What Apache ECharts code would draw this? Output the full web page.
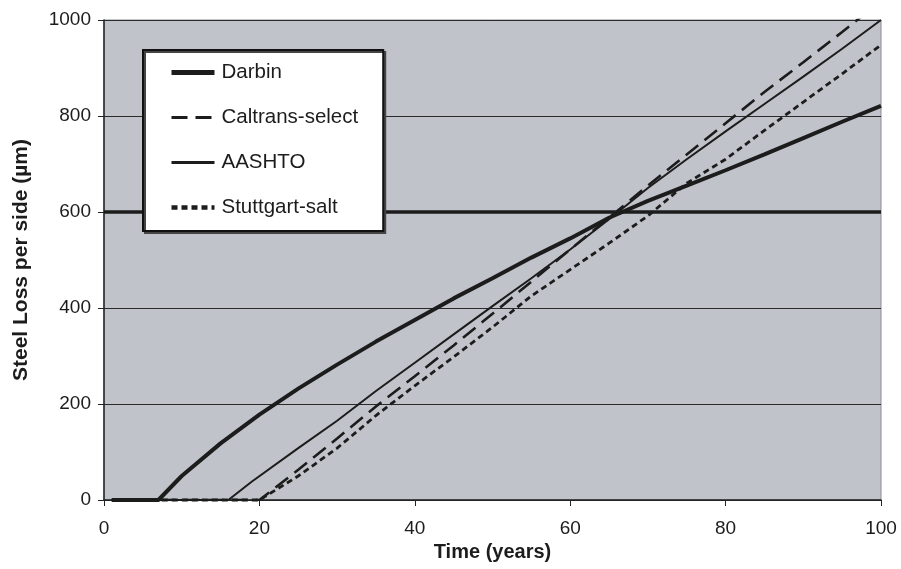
<!DOCTYPE html>
<html>
<head>
<meta charset="utf-8">
<script src="https://cdn.jsdelivr.net/npm/echarts@6/dist/echarts.min.js"></script>
<style>
  html, body { margin: 0; padding: 0; background: #fff; }
  #chart { width: 901px; height: 569px; }
</style>
</head>
<body>
<div id="chart"></div>
<script>
// Steel loss per side over time for four corrosion models
const darbinYears = [1, 7, 10, 15, 20, 25, 30, 35, 40, 45, 50, 55, 60, 65, 70, 75, 80, 85, 90, 95, 100];
const darbinLoss  = [0, 0, 50, 118, 178, 232, 282, 330, 375, 420, 462, 505, 545, 588, 623, 655, 687, 720, 754, 788, 821];

const caltransYears = [1, 20, 25, 30, 35, 40, 45, 50, 55, 60, 65, 70, 75, 80, 85, 90, 95, 100];
const caltransLoss  = [0, 0, 63, 128, 195, 258, 322, 388, 455, 522, 588, 655, 720, 785, 850, 912, 975, 1040];

const aashtoYears = [1, 16, 19, 25, 30, 35, 40, 45, 50, 55, 60, 65, 70, 75, 80, 85, 90, 95, 100];
const aashtoLoss  = [0, 0, 38, 108, 165, 227, 286, 345, 404, 462, 522, 585, 650, 710, 768, 825, 882, 940, 1000];

const stuttgartYears = [1, 20, 25, 30, 35, 40, 45, 50, 55, 60, 65, 70, 75, 80, 85, 90, 95, 100];
const stuttgartLoss  = [0, 0, 50, 108, 176, 238, 298, 360, 425, 480, 535, 592, 660, 710, 770, 829, 888, 948];

const thresholdLoss = 600;

const xTicks = { min: 0, max: 100, step: 20 };
const yTicks = { min: 0, max: 1000, step: 200 };

const pairs = (xs, ys) => xs.map((x, i) => [x, ys[i]]);

const ink = '#1c1c1c';
const font = '"Liberation Sans", Arial, sans-serif';

const chart = echarts.init(document.getElementById('chart'), null, { renderer: 'canvas' });

chart.setOption({
  animation: false,
  backgroundColor: '#ffffff',
  grid: {
    left: 104, top: 20, right: 20, bottom: 69,
    outerBoundsMode: 'none',
    containLabel: false,
    show: true,
    backgroundColor: '#c0c3ca',
    borderColor: '#8a8d92',
    borderWidth: 1
  },
  legend: {
    orient: 'vertical',
    left: 143, top: 50,
    z: 20,
    padding: [12, 25, 13, 26],
    itemWidth: 43,
    itemHeight: 14,
    itemGap: 24,
    backgroundColor: '#ffffff',
    borderColor: '#111',
    borderWidth: 2,
    shadowColor: '#444',
    shadowBlur: 0,
    shadowOffsetX: 2,
    shadowOffsetY: 2,
    itemStyle: { color: 'transparent', borderColor: 'transparent', borderWidth: 0 },
    textStyle: { fontFamily: font, fontSize: 20.5, color: ink, lineHeight: 20, padding: [0, 0, 0, 2] },
    data: [
      { name: 'Darbin', lineStyle: { width: 5 } },
      { name: 'Caltrans-select', lineStyle: { width: 3 } },
      { name: 'AASHTO', lineStyle: { width: 3 } },
      { name: 'Stuttgart-salt', lineStyle: { width: 4.5 } }
    ]
  },
  xAxis: {
    type: 'value',
    min: xTicks.min, max: xTicks.max, interval: xTicks.step,
    name: 'Time (years)',
    nameLocation: 'middle',
    nameGap: 42,
    nameTextStyle: { fontFamily: font, fontSize: 20, fontWeight: 'bold', color: ink },
    axisLine: { show: true, onZero: false, lineStyle: { color: '#222', width: 1.5 } },
    axisTick: { show: true, inside: false, length: 6, lineStyle: { color: '#222' } },
    axisLabel: { fontFamily: font, fontSize: 19, color: ink, margin: 19 },
    splitLine: { show: false }
  },
  yAxis: {
    type: 'value',
    min: yTicks.min, max: yTicks.max, interval: yTicks.step,
    name: 'Steel Loss per side (\u00b5m)',
    nameLocation: 'middle',
    nameGap: 72,
    nameTextStyle: { fontFamily: font, fontSize: 21, fontWeight: 'bold', color: ink },
    axisLine: { show: true, lineStyle: { color: '#222', width: 1.5 } },
    axisTick: { show: true, inside: false, length: 6, lineStyle: { color: '#222' } },
    axisLabel: { fontFamily: font, fontSize: 19, color: ink, margin: 13, formatter: v => String(v) },
    splitLine: { show: true, lineStyle: { color: '#2a2a2a', width: 1.2 } }
  },
  series: [
    {
      name: 'Darbin', type: 'line', symbol: 'none', clip: false,
      color: ink,
      lineStyle: { color: ink, width: 4, type: 'solid' },
      data: pairs(darbinYears, darbinLoss),
      markLine: {
        silent: true, symbol: 'none',
        label: { show: false },
        lineStyle: { color: ink, width: 3.5, type: 'solid' },
        data: [{ yAxis: thresholdLoss }]
      },
      z: 5
    },
    {
      name: 'Caltrans-select', type: 'line', symbol: 'none', clip: true,
      color: ink,
      lineStyle: { color: ink, width: 2.6, type: [16, 8] },
      data: pairs(caltransYears, caltransLoss),
      z: 4
    },
    {
      name: 'AASHTO', type: 'line', symbol: 'none', clip: false,
      color: ink,
      lineStyle: { color: ink, width: 2, type: 'solid' },
      data: pairs(aashtoYears, aashtoLoss),
      z: 4
    },
    {
      name: 'Stuttgart-salt', type: 'line', symbol: 'none', clip: false,
      color: ink,
      lineStyle: { color: ink, width: 2.8, type: [6, 4] },
      data: pairs(stuttgartYears, stuttgartLoss),
      z: 4
    }
  ]
});
</script>
</body>
</html>
